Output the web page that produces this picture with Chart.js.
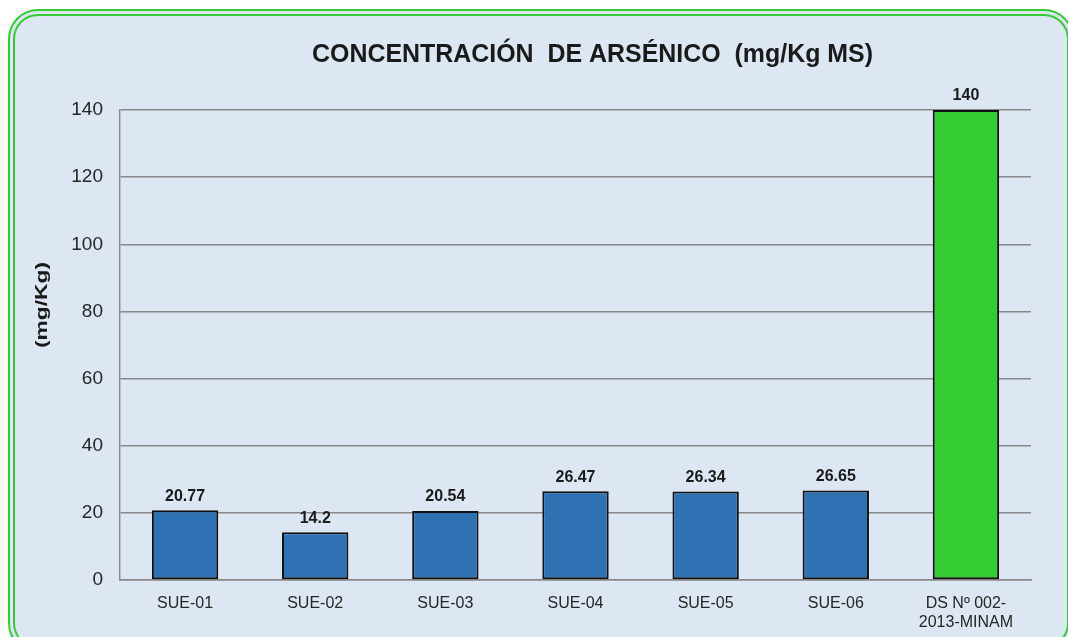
<!DOCTYPE html>
<html>
<head>
<meta charset="utf-8">
<script src="https://cdn.jsdelivr.net/npm/chart.js@4"></script>
<style>
  html, body { margin: 0; padding: 0; background: #fff; width: 1068px; height: 637px; overflow: hidden; }
  .frame {
    position: absolute; left: 8px; top: 9px; width: 1052px; height: 630px;
    border: 7px double #33cc33; border-radius: 30px; background: #dce7f3;
  }
  canvas { position: absolute; left: 0; top: 0; }
</style>
</head>
<body>
<div class="frame"></div>
<canvas id="arsenicChart" width="1068" height="637"></canvas>
<script>
const categories = ['SUE-01', 'SUE-02', 'SUE-03', 'SUE-04', 'SUE-05', 'SUE-06', ['DS Nº 002-', '2013-MINAM']]
const values = [20.77, 14.2, 20.54, 26.47, 26.34, 26.65, 140]
const barColors = ['#2e72b4', '#2e72b4', '#2e72b4', '#2e72b4', '#2e72b4', '#2e72b4', '#33cc33']
const yTicks = [0, 20, 40, 60, 80, 100, 120, 140]
const titleText = 'CONCENTRACIÓN  DE ARSÉNICO  (mg/Kg MS)'
const yTitleText = '(mg/Kg)'

// title and axis title drawn by hand, stretched like the original
const titlePlugin = {
  id: 'customTitle',
  afterDraw(chart) {
    const ctx = chart.ctx
    const area = chart.chartArea
    ctx.save()
    ctx.font = 'bold 25px "Liberation Sans", Arial, sans-serif'
    ctx.fillStyle = '#1a1a1a'
    ctx.textAlign = 'center'
    ctx.textBaseline = 'middle'
    const w = ctx.measureText(titleText).width
    ctx.translate((area.left + area.right) / 2 + 17, 55)
    ctx.scale(561 / w, 1)
    ctx.fillText(titleText, 0, 0)
    ctx.restore()

    ctx.save()
    ctx.font = 'bold 17px "Liberation Sans", Arial, sans-serif'
    ctx.fillStyle = '#1a1a1a'
    ctx.textAlign = 'center'
    ctx.textBaseline = 'middle'
    const w2 = ctx.measureText(yTitleText).width
    ctx.translate(42, (area.top + area.bottom) / 2 - 40)
    ctx.rotate(-Math.PI / 2)
    ctx.scale(86 / w2, 1)
    ctx.fillText(yTitleText, 0, 0)
    ctx.restore()
  }
}

// value labels above bars
const valueLabels = {
  id: 'valueLabels',
  afterDatasetsDraw(chart) {
    const ctx = chart.ctx
    const meta = chart.getDatasetMeta(0)
    ctx.save()
    ctx.font = 'bold 16px "Liberation Sans", Arial, sans-serif'
    ctx.fillStyle = '#1a1a1a'
    ctx.textAlign = 'center'
    ctx.textBaseline = 'bottom'
    meta.data.forEach((bar, i) => {
      ctx.fillText(String(values[i]), bar.x, bar.y - 6)
    })
    ctx.restore()
  }
}

const config = {
  type: 'bar',
  data: {
    labels: categories,
    datasets: [{
      data: values,
      backgroundColor: barColors,
      borderColor: '#111',
      borderWidth: 2,
      borderSkipped: false,
      barPercentage: 0.51,
      categoryPercentage: 1
    }]
  },
  options: {
    responsive: false,
    animation: false,
    layout: {
      padding: { left: 32, right: 37, top: 110, bottom: 0 }
    },
    scales: {
      x: {
        grid: { display: false },
        border: { display: true, color: '#888', width: 1.4 },
        ticks: {
          font: { size: 16, family: '"Liberation Sans", Arial, sans-serif' },
          color: '#262626',
          padding: 6,
          maxRotation: 0,
          autoSkip: false
        },
        afterFit(scale) { scale.height = 57 }
      },
      y: {
        min: 0,
        max: 140,
        afterBuildTicks(scale) { scale.ticks = yTicks.map(v => ({ value: v })) },
        grid: { color: '#888', lineWidth: 1.4, drawTicks: false },
        border: { display: true, color: '#888', width: 1.4 },
        ticks: {
          font: { size: 19, family: '"Liberation Sans", Arial, sans-serif' },
          color: '#262626',
          padding: 17
        },
        afterFit(scale) { scale.width = 88 }
      }
    },
    plugins: {
      legend: { display: false },
      title: { display: false },
      tooltip: { enabled: false }
    }
  },
  plugins: [titlePlugin, valueLabels]
}

const chart = new Chart(document.querySelector('#arsenicChart'), config)
</script>
</body>
</html>
